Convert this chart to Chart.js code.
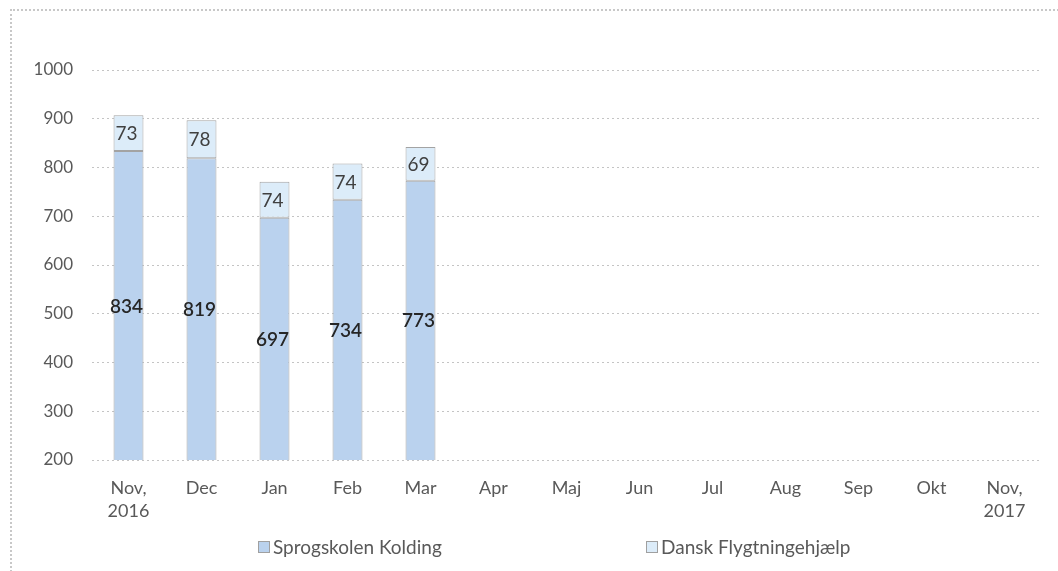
<!DOCTYPE html>
<html>
<head>
<meta charset="utf-8">
<script src="https://cdn.jsdelivr.net/npm/chart.js@4"></script>
<style>
  html, body { margin: 0; padding: 0; background: #fff; }
  #wrap { position: relative; width: 1058px; height: 571px; overflow: hidden; }
  #frame { position: absolute; left: 10px; top: 9px; right: -5px; bottom: -5px;
           border-top: 2px dotted #c8c8c8; border-left: 2px dotted #c8c8c8; }
  canvas { position: absolute; left: 0; top: 0; }
  #legend { position: absolute; top: 535px; left: 0; width: 1058px; font-family: Lato, "Open Sans", sans-serif;
            font-size: 19px; color: #595959; }
  .item { position: absolute; top: 0; white-space: nowrap; display: flex; align-items: center; }
  .box { display: inline-block; width: 10px; height: 10px; border: 1px solid #a0a0a0; margin-right: 3px; }
</style>
</head>
<body>
<div id="wrap">
  <div id="frame"></div>
  <canvas id="c" width="1058" height="571"></canvas>
  <div id="legend"></div>
</div>
<script>
const categories = [['Nov,', '2016'], 'Dec', 'Jan', 'Feb', 'Mar', 'Apr', 'Maj', 'Jun', 'Jul', 'Aug', 'Sep', 'Okt', ['Nov,', '2017']];
const sprogskolen = [834, 819, 697, 734, 773, null, null, null, null, null, null, null, null];
const danskFlygtning = [73, 78, 74, 74, 69, null, null, null, null, null, null, null, null];
const seriesNames = ['Sprogskolen Kolding', 'Dansk Flygtningehjælp'];
const yMin = 200, yMax = 1000, yStep = 100;

const colors = ['#bad2ee', '#dcecf9'];
const FONT = 'Lato, "Open Sans", sans-serif';

const labelPlugin = {
  id: 'barLabels',
  afterDatasetsDraw(chart) {
    const ctx = chart.ctx;
    const yScale = chart.scales.y;
    ctx.save();
    ctx.textAlign = 'center';
    ctx.textBaseline = 'middle';
    chart.data.datasets.forEach((ds, di) => {
      const meta = chart.getDatasetMeta(di);
      meta.data.forEach((bar, i) => {
        const v = ds.data[i];
        if (v == null) return;
        const props = bar.getProps(['x', 'y', 'base'], true);
        const top = Math.min(props.y, props.base);
        const bottom = Math.min(Math.max(props.y, props.base), yScale.bottom);
        const yc = (top + bottom) / 2;
        ctx.font = (di === 0 ? '600 ' : '400 ') + '19px ' + FONT;
        ctx.fillStyle = di === 0 ? '#262626' : '#404040';
        ctx.fillText(String(v), props.x - 2, yc + 1);
      });
    });
    ctx.restore();
  }
};

const chart = new Chart(document.getElementById('c'), {
  type: 'bar',
  data: {
    labels: categories,
    datasets: [
      { label: seriesNames[0], data: sprogskolen, backgroundColor: colors[0],
        borderColor: '#a3a3a3', borderWidth: 1, borderSkipped: 'bottom' },
      { label: seriesNames[1], data: danskFlygtning, backgroundColor: colors[1],
        borderColor: '#a3a3a3', borderWidth: 1, borderSkipped: false }
    ]
  },
  options: {
    responsive: false,
    animation: false,
    devicePixelRatio: 1,
    layout: { padding: { top: 70, right: 17, bottom: 31, left: 0 } },
    datasets: { bar: { categoryPercentage: 1, barPercentage: 0.41 } },
    plugins: {
      legend: { display: false },
      tooltip: { enabled: false }
    },
    scales: {
      x: {
        stacked: true,
        grid: { display: false, drawTicks: false },
        border: { display: false },
        ticks: { color: '#595959', font: { family: FONT, size: 18, lineHeight: 1.3 }, padding: 16, maxRotation: 0, autoSkip: false },
        afterFit(s) { s.height = 80; }
      },
      y: {
        stacked: true,
        min: yMin, max: yMax,
        grid: { color: '#c4c4c4', drawTicks: false, lineWidth: 1 },
        border: { display: false, dash: [2, 3] },
        ticks: { stepSize: yStep, color: '#595959', font: { family: FONT, size: 17 }, padding: 19,
                 callback: (v) => String(v) },
        afterFit(s) { s.width = 92; }
      }
    }
  },
  plugins: [labelPlugin]
});

// legend as HTML text built from the dataset names
const legend = document.getElementById('legend');
const legendX = [258, 646];
seriesNames.forEach((name, i) => {
  const it = document.createElement('div');
  it.className = 'item';
  it.style.left = legendX[i] + 'px';
  const b = document.createElement('span');
  b.className = 'box';
  b.style.background = colors[i];
  it.appendChild(b);
  it.appendChild(document.createTextNode(name));
  legend.appendChild(it);
});
</script>
</body>
</html>
